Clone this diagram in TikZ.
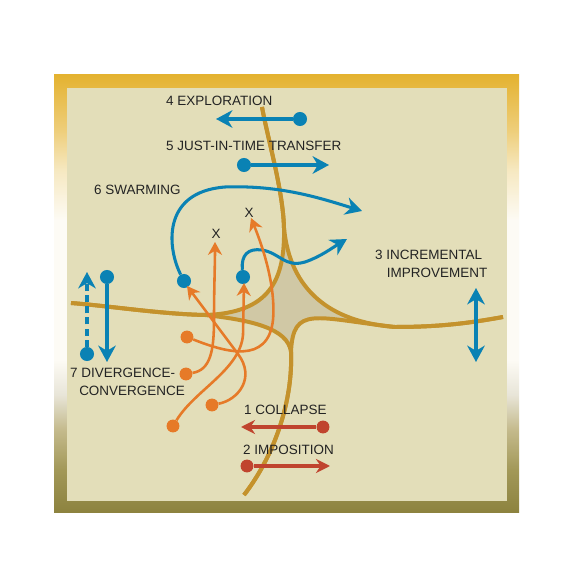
\documentclass[tikz,border=0pt]{standalone}
\usepackage{fontspec}
\setmainfont{Liberation Sans}
\usetikzlibrary{arrows.meta}

\definecolor{framegold}{RGB}{228,178,48}
\definecolor{framelight}{RGB}{238,206,122}
\definecolor{framepale}{RGB}{246,232,192}
\definecolor{framewhite}{RGB}{253,251,245}
\definecolor{framegray}{RGB}{232,229,216}
\definecolor{framedust}{RGB}{196,186,140}
\definecolor{framemoss}{RGB}{162,152,88}
\definecolor{frameolive}{RGB}{140,130,62}
\definecolor{innerfill}{RGB}{227,222,185}
\definecolor{starfill}{RGB}{208,200,165}
\definecolor{roadgold}{RGB}{196,146,44}
\definecolor{swblue}{RGB}{10,130,180}
\definecolor{sworange}{RGB}{230,122,40}
\definecolor{swred}{RGB}{192,68,46}
\definecolor{labelgray}{RGB}{35,35,35}

\pgfdeclareverticalshading{framefade}{100bp}{color(0bp)=(frameolive); color(25bp)=(frameolive); color(29.9bp)=(framemoss); color(34.5bp)=(framedust); color(38.5bp)=(framegray); color(42.5bp)=(framewhite); color(49.3bp)=(framewhite); color(58.4bp)=(framewhite); color(64.2bp)=(framepale); color(68.7bp)=(framelight); color(75bp)=(framegold); color(100bp)=(framegold)}

\begin{document}
\begin{tikzpicture}[x=0.03cm, y=-0.03cm,
  road/.style={draw=roadgold, line width=3.4pt},
  bdot/.style={circle, fill=swblue, inner sep=0pt, minimum size=12pt},
  odot/.style={circle, fill=sworange, inner sep=0pt, minimum size=11pt},
  rdot/.style={circle, fill=swred, inner sep=0pt, minimum size=11pt},
  barrow/.style={draw=swblue, line width=2.6pt, -{Stealth[length=14pt, width=15pt, inset=4.5pt]}},
  oarrow/.style={draw=sworange, line width=2.2pt, -{Stealth[length=11pt, width=12pt, inset=3.5pt]}},
  rarrow/.style={draw=swred, line width=2.6pt, -{Stealth[length=12pt, width=12pt, inset=4pt]}},
  lbl/.style={font=\fontsize{11.5}{15}\selectfont, text=labelgray, inner sep=0pt}]

\fill[white] (0,0) rectangle (580,573);
\useasboundingbox (0,0) rectangle (580,573);

% frame and ground
\shade[shading=framefade] (54,75) rectangle (519,513);
\fill[innerfill] (67,88) rectangle (507,501);

% the four roads and the star between them
\coordinate (leftend) at (71,303);
\coordinate (topend) at (262,107);
\coordinate (rightend) at (503,317);
\coordinate (bottomend) at (244,495);
\coordinate (L) at (205,315);
\coordinate (T) at (284,228);
\coordinate (R) at (395,327);
\coordinate (B) at (291,352);

\fill[starfill] (L) .. controls (270,313) and (285,280) .. (T)
  .. controls (290,290) and (330,322) .. (R)
  .. controls (315,318) and (293,305) .. (B)
  .. controls (288,328) and (250,320) .. (L) -- cycle;

\draw[road] (leftend) .. controls (110,306) and (160,314) .. (L)
  .. controls (270,313) and (285,280) .. (T)
  .. controls (283,190) and (268,140) .. (topend);
\draw[road] (topend) .. controls (268,140) and (283,190) .. (T)
  .. controls (290,290) and (330,322) .. (R)
  .. controls (440,327) and (470,323) .. (rightend);
\draw[road] (leftend) .. controls (110,306) and (160,314) .. (L)
  .. controls (250,320) and (288,328) .. (B)
  .. controls (293,400) and (275,455) .. (bottomend);
\draw[road] (bottomend) .. controls (275,455) and (293,400) .. (B)
  .. controls (293,305) and (315,318) .. (R)
  .. controls (440,327) and (470,323) .. (rightend);

% blue moves
\node[bdot] (expdot) at (300,119) {};
\coordinate (exptip) at (216,119);
\draw[barrow] (expdot) -- (exptip);

\node[bdot] (jitdot) at (244,165) {};
\coordinate (jittip) at (329,165);
\draw[barrow] (jitdot) -- (jittip);

\node[bdot] (swdotA) at (184,281) {};
\coordinate (swtipA) at (362,211);
\draw[barrow] (swdotA) .. controls (168,250) and (160,192) .. (225,187)
  .. controls (280,185) and (320,198) .. (swtipA);

\node[bdot] (swdotB) at (243,277) {};
\coordinate (swtipB) at (347,239);
\draw[barrow] (swdotB) .. controls (241,255) and (248,248) .. (262,250)
  .. controls (280,253) and (285,268) .. (305,262)
  .. controls (320,257) and (332,248) .. (swtipB);

\node[bdot] (divdot) at (87,354) {};
\coordinate (divtip) at (87,272);
\draw[barrow, dash pattern=on 6pt off 3.5pt] (divdot) -- (divtip);

\node[bdot] (condot) at (107,277) {};
\coordinate (contip) at (107,362);
\draw[barrow] (condot) -- (contip);

\coordinate (incup) at (476,288);
\coordinate (incdown) at (476,362);
\draw[barrow, {Stealth[length=14pt, width=15pt, inset=4.5pt]}-{Stealth[length=14pt, width=15pt, inset=4.5pt]}] (incup) -- (incdown);

% orange swarm
\node[odot] (orA) at (187,337) {};
\node[odot] (orB) at (186,374) {};
\node[odot] (orC) at (212,405) {};
\node[odot] (orD) at (173,426) {};
\coordinate (otA) at (187,286);
\coordinate (otB) at (215,242);
\coordinate (otC) at (244,283);
\coordinate (otD) at (251,218);

\draw[oarrow] (orA) .. controls (225,352) and (268,365) .. (273,320)
  .. controls (276,285) and (262,245) .. (otD);
\draw[oarrow] (orB) .. controls (210,370) and (214,352) .. (214,320)
  .. controls (214,290) and (215,265) .. (otB);
\draw[oarrow] (orC) .. controls (238,400) and (256,378) .. (238,354) -- (otA);
\draw[oarrow] (orD) .. controls (195,390) and (240,370) .. (243,335) -- (otC);

% red moves
\node[rdot] (coldot) at (323,427) {};
\coordinate (coltip) at (241,427);
\draw[rarrow] (coldot) -- (coltip);

\node[rdot] (impdot) at (247,466) {};
\coordinate (imptip) at (330,466);
\draw[rarrow] (impdot) -- (imptip);

% labels
\node[lbl, anchor=west] (explbl) at (166,101) {4 EXPLORATION};
\node[lbl, anchor=west] (jitlbl) at (166,146) {5 JUST-IN-TIME TRANSFER};
\node[lbl, anchor=west] (swarmlbl) at (94,190) {6 SWARMING};
\node[lbl, anchor=north west, align=left] (incrlbl) at (375,250) {3 INCREMENTAL\\\hspace*{10pt}IMPROVEMENT};
\node[lbl, anchor=north west, align=left] (divlbl) at (70,368) {7 DIVERGENCE-\\\hspace*{7.7pt}CONVERGENCE};
\node[lbl, anchor=west] (collbl) at (244,410) {1 COLLAPSE};
\node[lbl, anchor=west] (implbl) at (243,450) {2 IMPOSITION};
\node[lbl] (xA) at (216,234) {X};
\node[lbl] (xB) at (249,213) {X};
\end{tikzpicture}
\end{document}
